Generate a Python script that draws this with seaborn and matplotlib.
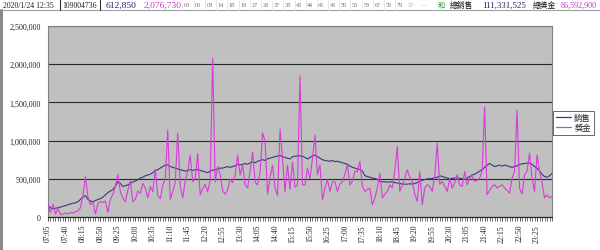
import matplotlib
matplotlib.use("Agg")
import matplotlib.pyplot as plt
import matplotlib.ticker as mticker
from matplotlib.lines import Line2D
import seaborn as sns
import pandas as pd

# ---------------- data (values in thousands) ----------------
sales_k = [
    150, 120, 110, 115, 120, 130, 140, 150, 160, 170,
    180, 185, 200, 230, 260, 280, 230, 210, 200, 215,
    230, 240, 260, 290, 320, 340, 360, 400, 460, 440,
    400, 410, 420, 440, 460, 470, 490, 510, 520, 540,
    550, 560, 580, 610, 620, 640, 660, 680, 680, 660,
    650, 640, 630, 620, 610, 600, 610, 620, 610, 620,
    620, 610, 600, 590, 580, 600, 612.85, 620, 630, 640,
    640, 650, 660, 650, 660, 670, 690, 680, 690, 700,
    690, 710, 720, 710, 730, 740, 750, 740, 760, 770,
    780, 790, 800, 805, 790, 780, 770, 760, 790, 795,
    800, 800, 795, 780, 760, 780, 800, 810, 790, 770,
    750, 740, 735, 730, 740, 725, 730, 720, 710, 700,
    690, 665, 650, 640, 630, 620, 600, 540, 530, 520,
    510, 505, 490, 470, 460, 460, 455, 460, 460, 450,
    445, 440, 430, 430, 430, 435, 430, 440, 450, 470,
    480, 490, 500, 500, 505, 510, 520, 540, 530, 520,
    510, 500, 505, 510, 515, 505, 500, 490, 510, 530,
    550, 560, 580, 600, 620, 650, 680, 700, 680, 660,
    670, 680, 665, 680, 670, 660, 650, 660, 670, 690,
    695, 700, 705, 705, 690, 660, 640, 600, 560, 530,
    520, 540, 570,
]
prize_k = [
    160, 60, 170, 40, 110, 30, 40, 50, 40, 60,
    50, 70, 80, 120, 280, 530, 260, 160, 200, 40,
    180, 200, 190, 210, 60, 230, 300, 400, 560, 330,
    250, 200, 350, 470, 200, 230, 340, 310, 440, 380,
    250, 400, 330, 620, 280, 240, 420, 500, 1140, 230,
    330, 450, 1100, 400, 250, 470, 600, 810, 460, 500,
    830, 290, 370, 430, 330, 480, 2076.73, 460, 660, 560,
    340, 300, 350, 500, 450, 550, 810, 550, 680, 420,
    380, 600, 850, 460, 420, 580, 1100, 990, 300, 520,
    680, 380, 280, 1150, 760, 330, 680, 360, 720, 390,
    420, 1850, 420, 422, 640, 500, 770, 1070, 552, 683,
    226, 380, 487, 335, 465, 460, 335, 430, 460, 560,
    683, 420, 470, 600, 590, 726, 400, 335, 360, 378,
    160, 250, 380, 574, 250, 300, 335, 420, 380, 600,
    922, 335, 420, 509, 617, 520, 465, 300, 204, 596,
    160, 380, 422, 400, 335, 550, 965, 430, 465, 400,
    335, 509, 378, 450, 552, 420, 400, 596, 422, 500,
    552, 465, 480, 509, 600, 1440, 291, 350, 400, 422,
    380, 400, 422, 378, 350, 310, 509, 600, 1400, 378,
    300, 552, 600, 835, 509, 335, 813, 600, 450, 250,
    291, 250, 270,
]
tick_labels = [
    "07:05", "07:40", "08:15", "08:50", "09:25", "10:00", "10:35", "11:10",
    "11:45", "12:20", "12:55", "13:30", "14:05", "14:40", "15:15", "15:50",
    "16:25", "17:00", "17:35", "18:10", "18:45", "19:20", "19:55", "20:30",
    "21:05", "21:40", "22:15", "22:50", "23:25",
]
series_names = ["銷售", "獎金"]
drawn_numbers = ["03", "05", "08", "14", "18", "19", "27", "28", "37", "38",
                 "43", "44", "45", "48", "50", "53", "58", "67", "76", "79"]
header_date = "2020/1/24 12:35"
header_draw = "109004736"
header_sales = "612,850"
header_prize = "2,076,730"
total_sales = "111,331,525"
total_prize = "86,592,900"

n = len(sales_k)
df = pd.DataFrame({
    "idx": list(range(n)) * 2,
    "value": [v * 1000 for v in sales_k] + [v * 1000 for v in prize_k],
    "series": [series_names[0]] * n + [series_names[1]] * n,
})

# ---------------- figure ----------------
sns.set_style("white")
plt.rcParams["font.family"] = ["Liberation Serif", "Noto Sans CJK TC", "DejaVu Sans"]

W, H = 600, 251
fig = plt.figure(figsize=(W / 100, H / 100), dpi=100)
fig.patch.set_facecolor("white")

def fx(x):
    return x / W

def fy(y):
    return 1 - y / H

ax = fig.add_axes([fx(48), fy(218), fx(552) - fx(48), fy(27) - fy(218)])
ax.set_facecolor("#c0c0c0")

c_sales = "#38387e"
c_prize = "#d83cd8"
sns.lineplot(data=df, x="idx", y="value", hue="series",
             palette={series_names[0]: c_sales, series_names[1]: c_prize},
             linewidth=0.8, ax=ax, legend=False, zorder=3)

ax.set_xlim(0, n - 1)
ax.set_ylim(0, 2_500_000)
ax.yaxis.set_major_locator(mticker.MultipleLocator(500_000))
ax.yaxis.set_major_formatter(mticker.FuncFormatter(lambda v, p: f"{v:,.0f}"))
ax.grid(axis="y", color="#2a2a2a", linewidth=0.8, zorder=1)
ax.grid(axis="x", visible=False)
ax.set_xlabel("")
ax.set_ylabel("")

ax.set_xticks(range(0, n, 7))
ax.set_xticklabels(tick_labels, rotation=90, fontsize=5.6, color="#222222")
ax.xaxis.set_minor_locator(mticker.MultipleLocator(1))
ax.tick_params(axis="x", which="major", length=3, width=0.6, color="#333333", pad=2, bottom=True)
ax.tick_params(axis="x", which="minor", length=3, width=0.5, color="#333333", bottom=True)
ax.tick_params(axis="y", length=0, pad=5, labelsize=5.8, labelcolor="#222222")

for s in ["top", "right", "left"]:
    ax.spines[s].set_color("#808080")
    ax.spines[s].set_linewidth(0.8)
ax.spines["bottom"].set_color("#222222")
ax.spines["bottom"].set_linewidth(0.8)

# legend
handles = [Line2D([0], [0], color=c_sales, lw=0.9), Line2D([0], [0], color=c_prize, lw=0.9)]
leg = fig.legend(handles, series_names, loc="center left",
                 bbox_to_anchor=(fx(553), fy(124)), fontsize=6,
                 frameon=True, fancybox=False, edgecolor="#222222",
                 handlelength=1.8, handletextpad=0.4, borderpad=0.35,
                 labelspacing=0.2, borderaxespad=0)
leg.get_frame().set_linewidth(0.6)

# ---------------- header ----------------
fig.add_artist(Line2D([fx(0), fx(600)], [fy(11), fy(11)], color="#a0a0a0", lw=0.8))
fig.add_artist(Line2D([fx(60), fx(60)], [fy(0), fy(11)], color="#333333", lw=0.8))
fig.add_artist(Line2D([fx(99.5), fx(99.5)], [fy(0), fy(11)], color="#333333", lw=0.8))
fig.add_artist(Line2D([fx(1.2), fx(1.2)], [fy(11), fy(251)], color="#8a8a8a", lw=2.2))

yc = fy(5.8)
def htext(x, s, color, size):
    fig.text(fx(x), yc, s, color=color, fontsize=size, ha="left", va="center")

htext(3, header_date, "#222222", 5.6)
htext(62, header_draw, "#222222", 5.6)
htext(106, header_sales, "#1f1f6b", 6.8)
htext(144, header_prize, "#cc33cc", 6.8)
for k, num in enumerate(drawn_numbers):
    htext(184 + 11.2 * k, num, "#6f6f6f", 4.4)
    fig.add_artist(Line2D([fx(182.5 + 11.2 * k), fx(182.5 + 11.2 * k)], [fy(0.5), fy(10.5)],
                          color="#dddddd", lw=0.5))
htext(184 + 11.2 * 20, "37", "#e39a72", 4.4)
htext(184 + 11.2 * 21 + 1, "—", "#bbbbbb", 4.4)
htext(438, "和", "#2a8a2a", 5.2)
htext(450, "總銷售", "#111111", 5.6)
htext(482, total_sales, "#1f1f6b", 6.4)
htext(533, "總獎金", "#111111", 5.6)
htext(561, total_prize, "#cc33cc", 5.9)

fig.savefig("out.png", dpi=100, facecolor="white")
